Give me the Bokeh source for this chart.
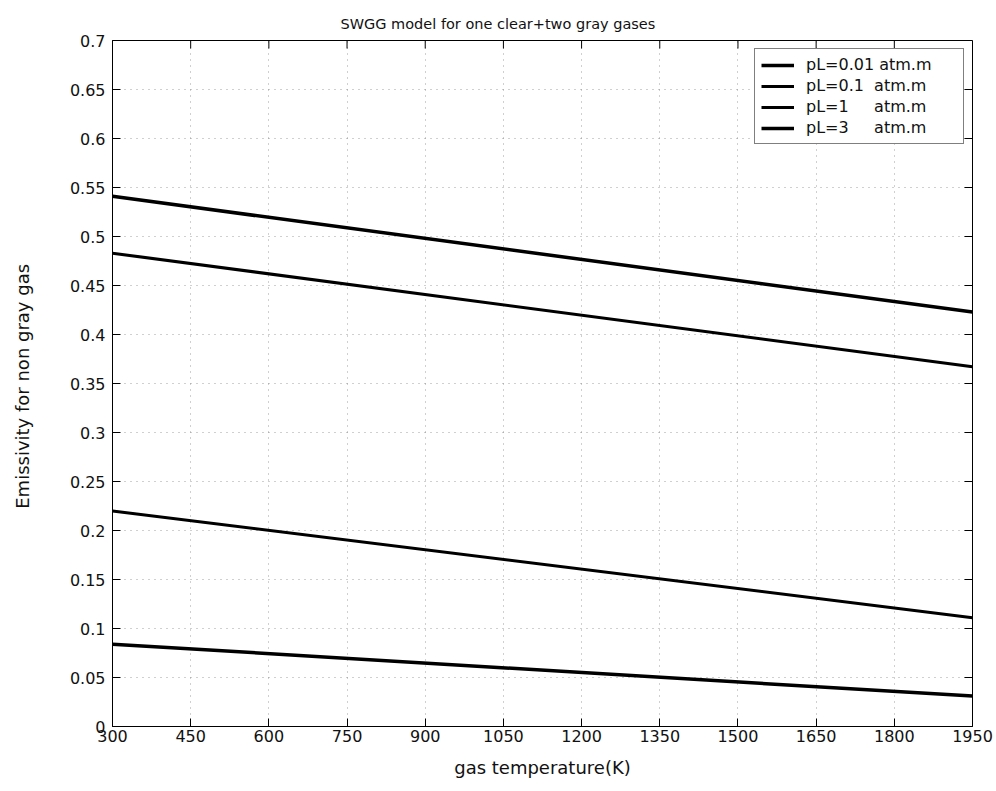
from bokeh.plotting import figure
from bokeh.models import FixedTicker, Legend, LegendItem, Range1d
from bokeh.embed import file_html
from bokeh.resources import INLINE

# Gas temperature (K) at the ends of each curve
temperature = [300, 1950]

# Emissivity of the non-gray gas for each path length pL
eps_pl001 = [0.084, 0.031]
eps_pl01 = [0.220, 0.111]
eps_pl1 = [0.483, 0.367]
eps_pl3 = [0.541, 0.423]

legend_labels = ["pL=0.01 atm.m", "pL=0.1\u00a0\u00a0atm.m",
                 "pL=1\u00a0\u00a0\u00a0\u00a0\u00a0atm.m", "pL=3\u00a0\u00a0\u00a0\u00a0\u00a0atm.m"]

x_ticks = [300, 450, 600, 750, 900, 1050, 1200, 1350, 1500, 1650, 1800, 1950]
y_ticks = [0, 0.05, 0.1, 0.15, 0.2, 0.25, 0.3, 0.35, 0.4, 0.45, 0.5, 0.55, 0.6, 0.65, 0.7]

X_MIN, X_MAX = 300, 1950
Y_MIN, Y_MAX = 0, 0.7

FONT = "DejaVu Sans"
TEXT = "#111111"

# frame geometry (pixels)
W, H = 996, 791
B_LEFT, B_RIGHT, B_TOP, B_BOTTOM = 112, 24, 40, 65
FRAME_W = W - B_LEFT - B_RIGHT
FRAME_H = H - B_TOP - B_BOTTOM
TICK_PX = 8

p = figure(width=W, height=H, output_backend="svg", toolbar_location=None,
           x_range=Range1d(X_MIN, X_MAX), y_range=Range1d(Y_MIN, Y_MAX),
           min_border_left=B_LEFT, min_border_right=B_RIGHT, min_border_top=B_TOP,
           min_border_bottom=B_BOTTOM, background_fill_color="white",
           border_fill_color="white")

p.title.text = "SWGG model for one clear+two gray gases"
p.title.align = "left"
p.title.offset = 228
p.title.text_font = FONT
p.title.text_font_size = "14.5px"
p.title.text_font_style = "normal"
p.title.text_color = TEXT
p.title.standoff = 18

p.outline_line_color = "black"
p.outline_line_width = 1

def style_axis(ax, ticks):
    ax.ticker = FixedTicker(ticks=ticks)
    ax.major_tick_in = TICK_PX
    ax.major_tick_out = 0
    ax.minor_tick_in = 0
    ax.minor_tick_out = 0
    ax.axis_line_color = "black"
    ax.major_tick_line_color = "black"
    ax.major_label_text_font = FONT
    ax.major_label_text_font_size = "16px"
    ax.major_label_text_color = TEXT
    ax.axis_label_text_font = FONT
    ax.axis_label_text_font_size = "18px"
    ax.axis_label_text_font_style = "normal"
    ax.axis_label_text_color = TEXT

xa = p.xaxis[0]
style_axis(xa, x_ticks)
xa.major_label_standoff = 3
xa.axis_label = "gas temperature(K)"
xa.axis_label_standoff = 12

ya = p.yaxis[0]
style_axis(ya, y_ticks)
ya.major_label_standoff = 7
ya.axis_label = "Emissivity  for non gray gas"
ya.axis_label_standoff = 34

# inward ticks on the top and right edges of the box
dx = TICK_PX / FRAME_W * (X_MAX - X_MIN)
dy = TICK_PX / FRAME_H * (Y_MAX - Y_MIN)
p.segment(x0=x_ticks, y0=[Y_MAX] * len(x_ticks), x1=x_ticks,
          y1=[Y_MAX - dy] * len(x_ticks), line_color="black", line_width=1)
p.segment(x0=[X_MAX] * len(y_ticks), y0=y_ticks, x1=[X_MAX - dx] * len(y_ticks),
          y1=y_ticks, line_color="black", line_width=1)

for g in (p.xgrid[0], p.ygrid[0]):
    g.grid_line_color = "#777777"
    g.grid_line_dash = "1 5"
    g.grid_line_width = 1
    g.grid_line_alpha = 0.7
p.xgrid[0].ticker = FixedTicker(ticks=x_ticks)
p.ygrid[0].ticker = FixedTicker(ticks=y_ticks)

r1 = p.line(temperature, eps_pl001, line_color="black", line_width=3.5)
r2 = p.line(temperature, eps_pl01, line_color="black", line_width=3)
r3 = p.line(temperature, eps_pl1, line_color="black", line_width=3)
r4 = p.line(temperature, eps_pl3, line_color="black", line_width=3.5)

legend = Legend(items=[LegendItem(label=lbl, renderers=[r])
                       for lbl, r in zip(legend_labels, [r1, r2, r3, r4])],
                location="top_right")
legend.margin = 8
legend.padding = 6
legend.spacing = 2
legend.glyph_width = 33
legend.glyph_height = 18
legend.label_height = 18
legend.label_width = 151
legend.label_standoff = 12
legend.label_text_font = FONT
legend.label_text_font_size = "16px"
legend.label_text_color = TEXT
legend.border_line_color = "black"
legend.border_line_width = 1
legend.background_fill_color = "white"
legend.background_fill_alpha = 1
p.add_layout(legend)

open("out.html", "w").write(file_html(p, INLINE))
